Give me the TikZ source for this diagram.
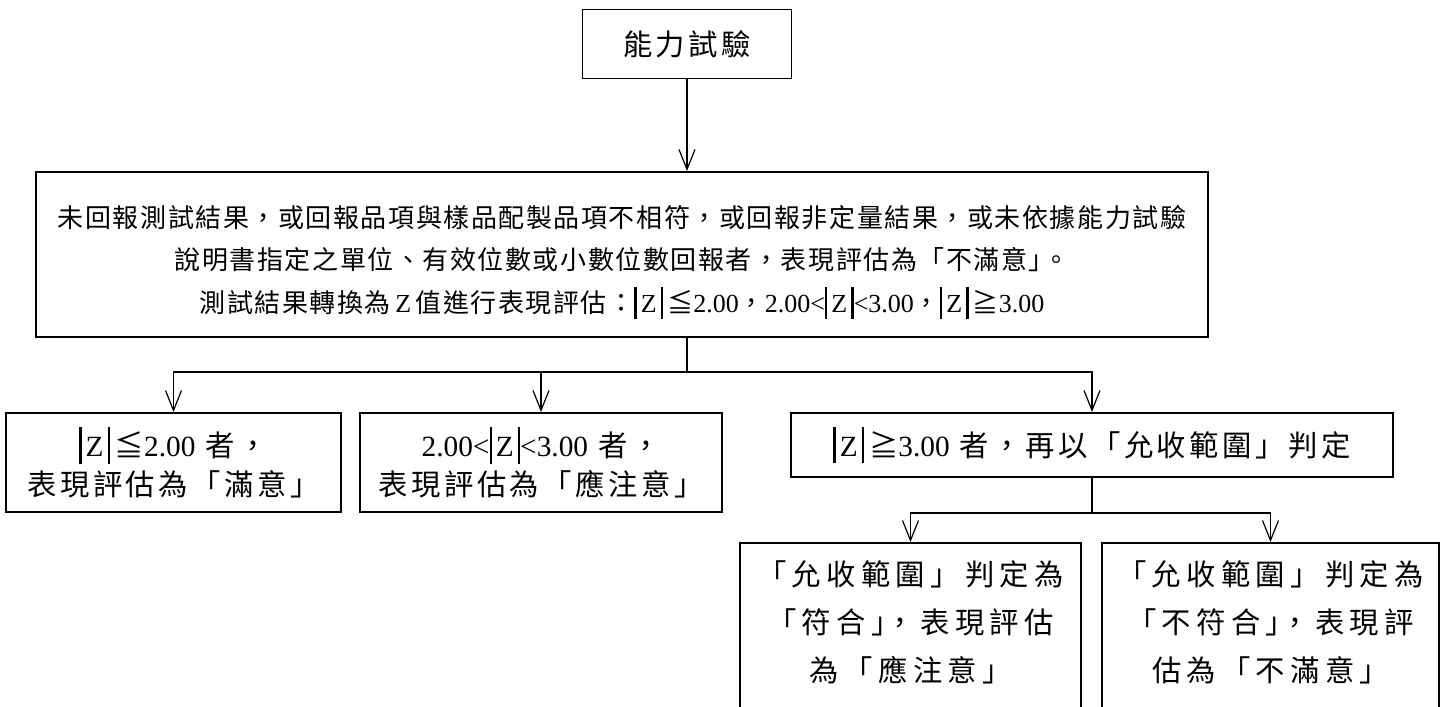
\documentclass[tikz,border=0pt]{standalone}
\usepackage{fontspec}
\setmainfont{Noto Sans CJK TC}[LetterSpace=12]
\newfontfamily\tnr{Liberation Serif}
\usetikzlibrary{arrows.meta,positioning}
\newcommand{\lat}[1]{{\tnr #1}}
\newcommand{\absz}{\rule[-0.25em]{1.8pt}{1.25em}\hspace{3pt}\lat{Z}\hspace{3pt}\rule[-0.25em]{1.8pt}{1.25em}}
\tikzset{
  x=0.75pt, y=-0.75pt,
  box/.style  = {draw, rectangle, line width=1.4pt, align=center, inner sep=0pt,
                 font=\fontsize{22}{32}\selectfont},
  pair/.style = {box, font=\fontsize{22}{29}\selectfont},
  wide/.style = {box, font=\fontsize{19.5}{32}\selectfont\addfontfeature{LetterSpace=6}},
  tall/.style = {box, font=\fontsize{22}{36}\selectfont\addfontfeature{LetterSpace=18}},
  post/.style = {-{Straight Barb[length=15pt,width=12pt,line width=0.9pt]}, line width=1.3pt},
  link/.style = {line width=1.3pt}
}
\begin{document}
\begin{tikzpicture}
  \useasboundingbox (0,0) rectangle (1443,707);
  \node[box, minimum width=156.75pt, minimum height=51.75pt] (test) at (687,44) {能力試驗};
  \node[wide, minimum width=879pt, minimum height=123.75pt] (eval) at (622,254.5)
    {\mbox{}\\[-4pt]未回報測試結果，或回報品項與樣品配製品項不相符，或回報非定量結果，或未依據能力試驗\\說明書指定之單位、有效位數或小數位數回報者，表現評估為「不滿意」\kern-0.45em。\\測試結果轉換為\,\lat{Z}\,值進行表現評估：\absz\,≦\lat{2.00}，\lat{2.00<}\absz\lat{<3.00}，\absz\,≧\lat{3.00}};
  \node[pair, minimum width=251.25pt, minimum height=74.25pt] (z1) at (173.5,462.5)
    {\absz\,≦\lat{2.00} 者，\\表現評估為「滿意」};
  \node[pair, minimum width=271.5pt, minimum height=74.25pt] (z2) at (541,462.5)
    {\lat{2.00<}\absz\lat{<3.00} 者，\\表現評估為「應注意」};
  \node[box, minimum width=451.5pt, minimum height=48pt] (z3) at (1092,445)
    {\absz\,≧\lat{3.00} 者，再以「允收範圍」判定};
  \node[tall, minimum width=255.75pt, minimum height=129pt] (acc) at (910.5,629)
    {「允收範圍」判定為\\「符合」\kern-0.5em，表現評估\\為「應注意」\\[-24pt]\mbox{}};
  \node[tall, minimum width=252.75pt, minimum height=129pt] (rej) at (1270.5,629)
    {「允收範圍」判定為\\「不符合」\kern-0.5em，表現評\\估為「不滿意」\\[-24pt]\mbox{}};

  \draw[post] (test) -- (test |- eval.north);
  \draw[link] (test |- eval.south) -- (test |- 0,372) coordinate (fork);
  \draw[post] (fork) -| (z1.north);
  \draw[post] (fork) -| (z3.north);
  \draw[post] (z2.north |- fork) -- (z2.north);
  \draw[link] (z3.south) -- ++(0,35) coordinate (fork2);
  \draw[post] (fork2) -| (acc.north);
  \draw[post] (fork2) -| (rej.north);
\end{tikzpicture}
\end{document}
